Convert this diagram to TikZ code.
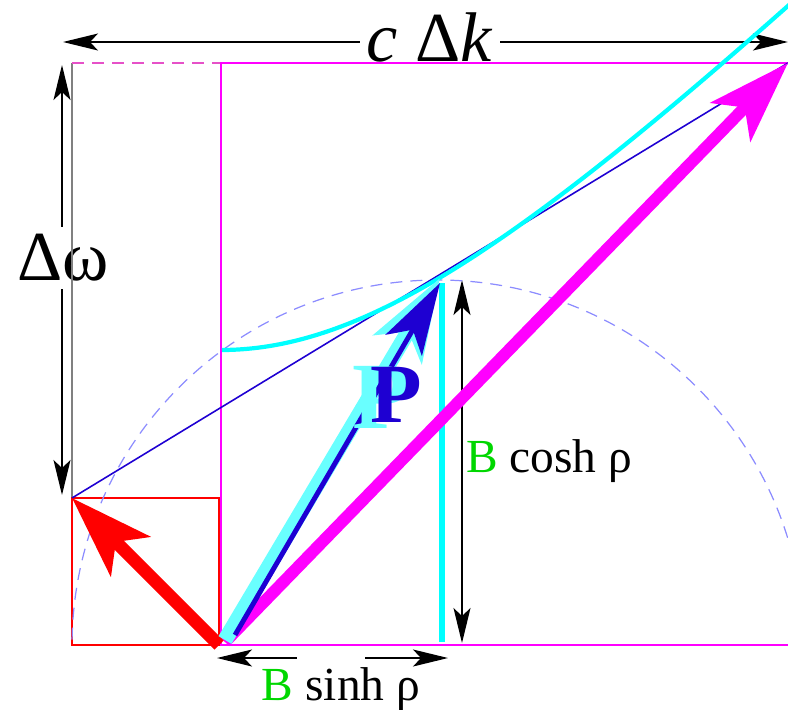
\documentclass[tikz,border=0pt]{standalone}
\usepackage{fontspec}
\setmainfont{Liberation Serif}
\usepackage{tikz}
\usepackage{xcolor}
\usetikzlibrary{arrows.meta}
\definecolor{mag}{RGB}{255,0,255}
\definecolor{cyn}{RGB}{0,255,255}
\definecolor{lcyn}{RGB}{105,255,255}
\definecolor{dblue}{RGB}{30,0,210}
\definecolor{cblue}{RGB}{140,140,255}
\definecolor{dmag}{RGB}{230,80,200}
\definecolor{bgreen}{RGB}{0,215,0}
\tikzset{dimtip/.tip={Stealth[length=3.5mm,width=1.7mm,inset=0.8mm]},
  bigtip/.tip={Stealth[length=8.2mm,width=5.5mm,inset=2mm]},
  bluetip/.tip={Stealth[length=7.2mm,width=4.2mm,inset=1.8mm]}}

\begin{document}
\begin{tikzpicture}[x=1cm,y=1cm,
  dim/.style={draw=black,line width=0.4pt},
  big/.style={font=\fontsize{20}{24}\selectfont},
  lab/.style={font=\fontsize{13.5}{16}\selectfont}]
\useasboundingbox (-2.21,-0.64) rectangle (5.67,6.45);
\coordinate (O) at (0,0);
\coordinate (A) at (-1.49,1.47);
\coordinate (Atop) at (-1.49,5.82);
\coordinate (Mtop) at (0,5.82);
\coordinate (C) at (5.67,5.82);
\coordinate (T) at (2.19,3.67);
\coordinate (ctr) at (2.17,-0.01);
\draw[dim,dimtip-dimtip] (-1.58,6.03) coordinate (ckL) -- (5.67,6.03) coordinate (ckR);
\node[big,fill=white,inner sep=2pt,anchor=base] (ck) at (2.09,5.84) {\textit{c} Δ\textit{k}};
\draw[dim,dimtip-dimtip] (-1.59,5.80) coordinate (dwT) -- (-1.59,1.50) coordinate (dwB);
\node[big,fill=white,inner sep=2pt] (dw) at (-1.58,3.87) {Δω};
\draw[dim,dimtip-dimtip] (2.41,3.65) coordinate (chT) -- (2.41,0.02) coordinate (chB);
\node[lab,fill=white,inner sep=1pt,anchor=base west] (ch) at (2.41,1.73) {\textcolor{bgreen}{B} cosh ρ};
\draw[dim,dimtip-] (-0.04,-0.13) coordinate (shL) -- (0.76,-0.13) coordinate (shGL);
\draw[dim,-dimtip] (1.44,-0.13) coordinate (shGR) -- (2.27,-0.13) coordinate (shR);
\node[lab,anchor=base] (sh) at (1.20,-0.55) {\textcolor{bgreen}{B} sinh ρ};
\draw[gray,line width=0.35pt] (A) -- (Atop);
\draw[dmag,line width=0.5pt,dash pattern=on 3.4pt off 2.3pt] (Atop) -- (Mtop);
\draw[mag,line width=0.6pt] (O) rectangle (5.75,5.82);
\draw[red,line width=0.7pt] (-1.49,0) rectangle (-0.02,1.47);
\draw[cblue,line width=0.35pt,dash pattern=on 3.4pt off 2.3pt] (ctr) ++(179:3.66) arc[start angle=179,end angle=15,radius=3.66];
\draw[dblue,line width=0.45pt] (A) -- (C);
\draw[cyn,line width=1.2pt] plot[domain=0.01:5.7,samples=80,smooth] (\x,{sqrt(8.7025+\x*\x)});
\draw[cyn,line width=1.7pt] (2.21,3.62) coordinate (cvT) -- (2.21,0.03) coordinate (cvB);
\draw[mag,line width=3.4pt,-bigtip] (0.04,0.03) coordinate (mS) -- (C);
\draw[red,line width=3.7pt,-bigtip] (-0.02,0.0) coordinate (rS) -- (A);
\draw[lcyn,line width=4.3pt,-bigtip] (0.04,0.05) coordinate (cS) -- (T);
\draw[dblue,line width=1.4pt,-bluetip] (0.14,0.10) coordinate (bS) -- (2.19,3.62) coordinate (bT);
\node[lcyn,font=\bfseries\fontsize{27}{31}\selectfont] (Pc) at (1.60,2.48) {P};
\node[dblue,font=\bfseries\fontsize{24}{28}\selectfont] (Pb) at (1.75,2.50) {P};
\end{tikzpicture}
\end{document}
